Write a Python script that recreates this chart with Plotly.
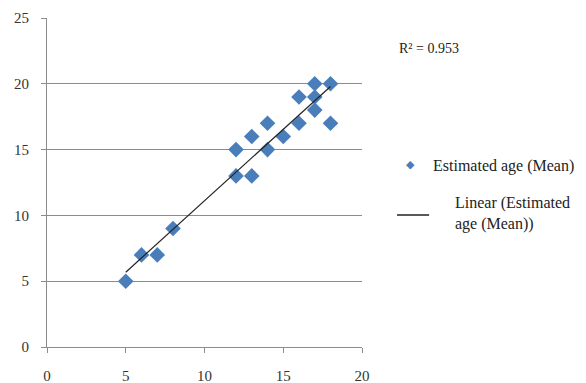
import numpy as np
import plotly.graph_objects as go

# Data
actual_age = [5, 6, 7, 8, 12, 12, 13, 13, 14, 14, 15, 16, 16, 17, 17, 17, 18, 18]
estimated_age = [5, 7, 7, 9, 15, 13, 16, 13, 17, 15, 16, 19, 17, 20, 19, 18, 20, 17]
x_ticks = [0, 5, 10, 15, 20]
y_ticks = [0, 5, 10, 15, 20, 25]
series_name = "Estimated age (Mean)"
trend_name = "Linear (Estimated<br>age (Mean))"
r2_text = "R² = 0.953"

xs = np.array(actual_age, dtype=float)
ys = np.array(estimated_age, dtype=float)
slope, intercept = np.polyfit(xs, ys, 1)
tx = np.array([xs.min(), xs.max()])
ty = slope * tx + intercept

font_family = "Liberation Serif, DejaVu Serif, serif"
blue = "#4A7EBB"
txt = "#222222"
fs = 15
fl = 16

fig = go.Figure()
fig.add_trace(go.Scatter(
    x=actual_age, y=estimated_age, mode="markers",
    marker=dict(symbol="diamond", size=12, color=blue),
    name=series_name, showlegend=False, cliponaxis=False,
))
fig.add_trace(go.Scatter(
    x=tx, y=ty, mode="lines", line=dict(color="#222222", width=1.2),
    name="Linear", showlegend=False,
))

annotations = [
    dict(text=r2_text, xref="paper", yref="paper", x=1.111, y=0.907,
         xanchor="left", yanchor="middle", showarrow=False,
         font=dict(family=font_family, size=14, color=txt)),
    dict(text="◆", xref="paper", yref="paper", x=1.155, y=0.556,
         xanchor="center", yanchor="middle", showarrow=False,
         font=dict(family="DejaVu Sans", size=11, color=blue)),
    dict(text=series_name, xref="paper", yref="paper", x=1.219, y=0.551,
         xanchor="left", yanchor="middle", showarrow=False,
         font=dict(family=font_family, size=fl, color=txt)),
    dict(text=trend_name, xref="paper", yref="paper", x=1.289, y=0.406,
         xanchor="left", yanchor="middle", showarrow=False, align="left",
         font=dict(family=font_family, size=fl, color=txt)),
]
shapes = [
    dict(type="line", xref="paper", yref="paper", x0=1.111, x1=1.213,
         y0=0.401, y1=0.401, line=dict(color="#222222", width=1.5)),
]

fig.update_layout(
    width=586, height=383,
    margin=dict(l=47, r=224, t=18, b=36),
    plot_bgcolor="white", paper_bgcolor="white",
    font=dict(family=font_family, size=fs, color="#333333"),
    annotations=annotations, shapes=shapes,
    showlegend=False,
)
fig.update_xaxes(
    range=[0, 20], tickvals=x_ticks, showgrid=False, zeroline=False,
    showline=True, linecolor="#8c8c8c", linewidth=1, automargin=False,
    ticks="outside", ticklen=5, tickcolor="#8c8c8c", ticklabelstandoff=10,
)
fig.update_yaxes(
    range=[0, 25], tickvals=y_ticks, showgrid=True, gridcolor="#8c8c8c",
    gridwidth=1, zeroline=False, automargin=False,
    showline=True, linecolor="#8c8c8c", linewidth=1,
    ticks="outside", ticklen=5, tickcolor="#8c8c8c", ticklabelstandoff=9,
)

fig.write_html("out.html", config={"displayModeBar": False},
               post_script="document.body.style.margin='0';")
